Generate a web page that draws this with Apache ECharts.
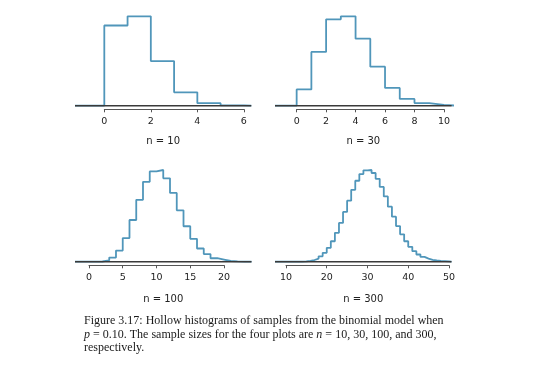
<!DOCTYPE html>
<html><head><meta charset="utf-8">
<script src="https://cdn.jsdelivr.net/npm/echarts@6/dist/echarts.min.js"></script>
<style>html,body{margin:0;padding:0;background:#fff}#c{width:541px;height:372px}</style>
</head><body><div id="c"></div>
<script>
// ---- data (relative frequencies) ----
const start10 = 0;
const freq10 = [0.349, 0.389, 0.194, 0.058, 0.011, 0.001];
const start30 = 0;
const freq30 = [0.043, 0.142, 0.228, 0.236, 0.177, 0.103, 0.047, 0.018, 0.007, 0.002, 0.0003];
const start100 = 1;
const freq100 = [0.0003, 0.002, 0.006, 0.016, 0.034, 0.060, 0.089, 0.115, 0.130, 0.132, 0.120, 0.099,
  0.074, 0.051, 0.033, 0.019, 0.011, 0.005, 0.003, 0.001, 0.0005, 0.0002];
const start300 = 13;
const freq300 = [0.0001, 0.0003, 0.0007, 0.0014, 0.0026, 0.0045, 0.0074, 0.0116, 0.0171, 0.0241, 0.0324,
  0.0416, 0.0510, 0.0600, 0.0676, 0.0732, 0.0763, 0.0766, 0.0741, 0.0692, 0.0625, 0.0545, 0.0460, 0.0376,
  0.0298, 0.0229, 0.0171, 0.0124, 0.0088, 0.0060, 0.0040, 0.0026, 0.0016, 0.0010, 0.0006, 0.0004, 0.0002];
const panelLabels = ['n = 10', 'n = 30', 'n = 100', 'n = 300'];
const axisTicks10 = {min: 0, max: 6, interval: 2};
const axisTicks30 = {min: 0, max: 10, interval: 2};
const axisTicks100 = {min: 0, max: 20, interval: 5};
const axisTicks300 = {min: 10, max: 50, interval: 10};

// ---- layout ----
const panels = [
  {start: start10, freq: freq10, ticks: axisTicks10, label: panelLabels[0], xmin: -1.26, xmax: 6.32, left: 75, width: 176.3, base: 105.7, peak: 16.3, axisY: 109.3, labY: 141.7},
  {start: start30, freq: freq30, ticks: axisTicks30, label: panelLabels[1], xmin: -1.47, xmax: 10.52, left: 275, width: 176.6, base: 105.7, peak: 16.3, axisY: 109.3, labY: 141.7},
  {start: start100, freq: freq100, ticks: axisTicks100, label: panelLabels[2], xmin: -2.07, xmax: 24.07, left: 75, width: 176.5, base: 261.7, peak: 170, axisY: 265.3, labY: 299.5},
  {start: start300, freq: freq300, ticks: axisTicks300, label: panelLabels[3], xmin: 7.3, xmax: 50.62, left: 275, width: 176.5, base: 261.7, peak: 170, axisY: 265.3, labY: 299.5}
];
const BLUE = '#5096BA';
const grid = [], xAxis = [], yAxis = [], series = [], graphic = [];
panels.forEach((p, i) => {
  const maxV = Math.max(...p.freq);
  const pxPerUnit = p.width / (p.xmax - p.xmin);
  grid.push({left: p.left, top: p.peak, width: p.width, height: p.base - p.peak});
  xAxis.push({type: 'value', gridIndex: 2 * i, min: p.xmin, max: p.xmax, show: false});
  yAxis.push({type: 'value', gridIndex: 2 * i, min: 0, max: maxV, show: false});
  const aLeft = p.left + (p.ticks.min - p.xmin) * pxPerUnit;
  const aWidth = (p.ticks.max - p.ticks.min) * pxPerUnit;
  grid.push({left: aLeft, top: p.axisY - 10, width: aWidth, height: 10});
  xAxis.push({type: 'value', gridIndex: 2 * i + 1, min: p.ticks.min, max: p.ticks.max, interval: p.ticks.interval,
    axisLine: {show: true, lineStyle: {color: '#555', width: 1}},
    axisTick: {show: true, inside: false, length: 3, lineStyle: {color: '#555', width: 1}},
    splitLine: {show: false},
    axisLabel: {margin: 7, fontSize: 9.5, color: '#222', fontFamily: '"DejaVu Sans", sans-serif', showMinLabel: true, showMaxLabel: true}});
  yAxis.push({type: 'value', gridIndex: 2 * i + 1, show: false});
  const pts = [[p.xmin, 0]];
  p.freq.forEach((v, k) => pts.push([p.start + k, v]));
  pts.push([p.start + p.freq.length, 0]);
  pts.push([p.xmax, 0]);
  series.push({type: 'line', xAxisIndex: 2 * i, yAxisIndex: 2 * i, data: pts, step: 'end', symbol: 'none',
    clip: false, lineStyle: {color: BLUE, width: 1.8}, z: 2, silent: true});
  series.push({type: 'line', xAxisIndex: 2 * i, yAxisIndex: 2 * i, data: [[p.xmin, 0], [p.xmax, 0]], symbol: 'none',
    clip: false, lineStyle: {color: '#3a3a3a', width: 1.4}, z: 3, silent: true});
  graphic.push({type: 'text', x: p.left + p.width / 2, y: p.labY,
    style: {text: p.label, align: 'center', verticalAlign: 'middle', fill: '#222',
      font: '10px "DejaVu Sans", sans-serif'}});
});
const capFont = '"Liberation Serif", "Times New Roman", serif';
const capLines = [
  'Figure 3.17: Hollow histograms of samples from the binomial model when',
  '{i|p} = 0.10. The sample sizes for the four plots are {i|n} = 10, 30, 100, and 300,',
  'respectively.'
];
capLines.forEach((t, j) => {
  graphic.push({type: 'text', x: 84, y: 321 + j * 13.5,
    style: {text: t, verticalAlign: 'middle', fill: '#1a1a1a', fontFamily: capFont, fontSize: 12,
      rich: {i: {fontStyle: 'italic', fontFamily: capFont, fontSize: 12, fill: '#1a1a1a'}}}});
});

const chart = echarts.init(document.getElementById('c'), null, {renderer: 'canvas'});
chart.setOption({animation: false, grid, xAxis, yAxis, series, graphic});
</script></body></html>
